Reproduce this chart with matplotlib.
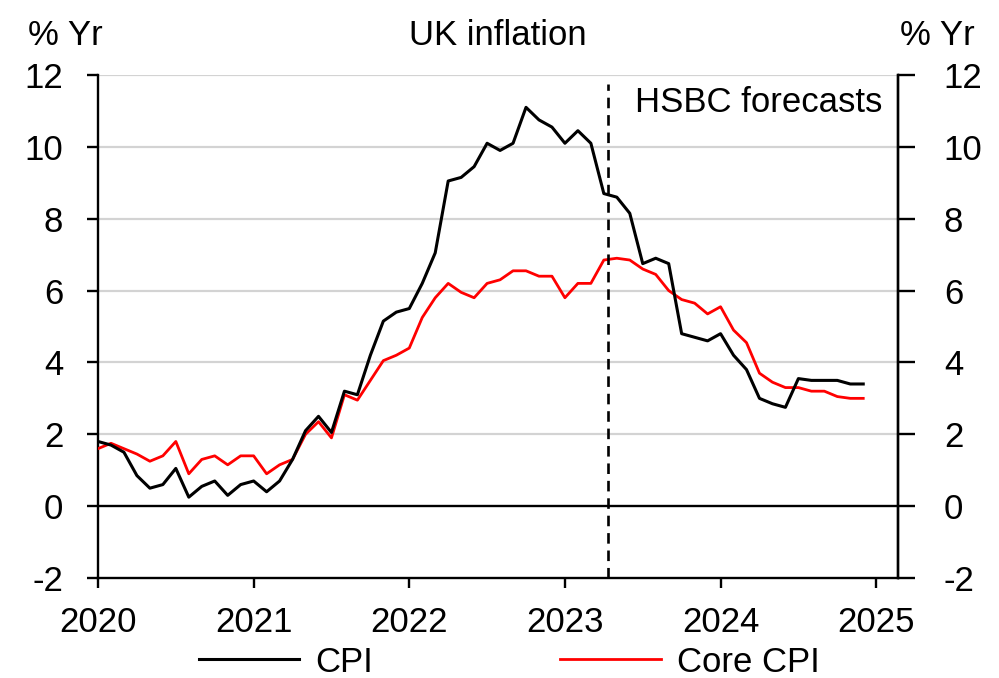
import matplotlib
matplotlib.use("Agg")
import matplotlib.pyplot as plt
from matplotlib.lines import Line2D

plt.rcParams['font.family'] = ['Liberation Sans', 'DejaVu Sans']
plt.rcParams['font.size'] = 25

# Monthly data, Jan 2020 - Dec 2024 (% y/y)
cpi = [1.8, 1.7, 1.5, 0.85, 0.5, 0.6, 1.05, 0.25, 0.55, 0.7, 0.3, 0.6,
       0.7, 0.4, 0.7, 1.3, 2.1, 2.5, 2.05, 3.2, 3.1, 4.2, 5.15, 5.4,
       5.5, 6.2, 7.05, 9.05, 9.15, 9.45, 10.1, 9.9, 10.1, 11.1, 10.75, 10.55,
       10.1, 10.45, 10.1, 8.7, 8.6, 8.15, 6.75, 6.9, 6.75, 4.8, 4.7, 4.6,
       4.8, 4.2, 3.8, 3.0, 2.85, 2.75, 3.55, 3.5, 3.5, 3.5, 3.4, 3.4]
core_cpi = [1.6, 1.75, 1.6, 1.45, 1.25, 1.4, 1.8, 0.9, 1.3, 1.4, 1.15, 1.4,
            1.4, 0.9, 1.15, 1.3, 2.0, 2.35, 1.9, 3.1, 2.95, 3.5, 4.05, 4.2,
            4.4, 5.25, 5.8, 6.2, 5.95, 5.8, 6.2, 6.3, 6.55, 6.55, 6.4, 6.4,
            5.8, 6.2, 6.2, 6.85, 6.9, 6.85, 6.6, 6.45, 6.0, 5.75, 5.65, 5.35,
            5.55, 4.9, 4.55, 3.7, 3.45, 3.3, 3.3, 3.2, 3.2, 3.05, 3.0, 3.0]
start_year = 2020
forecast_start = 2023 + 3.33 / 12
year_ticks = [2020, 2021, 2022, 2023, 2024, 2025]
y_ticks = [-2, 0, 2, 4, 6, 8, 10, 12]

months = [start_year + i / 12 for i in range(len(cpi))]

W, H = 999, 678
fig = plt.figure(figsize=(W / 100, H / 100), dpi=100)
ax = fig.add_axes([98 / W, 1 - 578 / H, 800 / W, 503 / H])

ax.set_xlim(2020, 2025.14)
ax.set_ylim(-2, 12)

for v in y_ticks:
    if v == 0:
        ax.axhline(v, color='black', lw=1.7, zorder=2)
    elif v > -2:
        ax.axhline(v, color='#d3d3d3', lw=1.6, zorder=1)

ax.plot(months, cpi, color='black', lw=2.2, zorder=4)
ax.plot(months, core_cpi, color='#ff0000', lw=2.0, zorder=3)
ax.plot([forecast_start, forecast_start], [-2, 11.75], color='black', lw=1.9,
        linestyle=(0, (4, 2.6)), zorder=5)

ax.spines['top'].set_visible(False)
for s in ['left', 'right', 'bottom']:
    ax.spines[s].set_linewidth(1.7)
    ax.spines[s].set_color('black')

ax.set_xticks(year_ticks)
ax.set_xticklabels([str(y) for y in year_ticks])
ax.tick_params(axis='x', direction='out', length=7, width=1.7, pad=13)
ax.set_yticks(y_ticks)
ax.set_yticklabels([str(v) for v in y_ticks])
ax.tick_params(axis='y', direction='out', length=8, width=1.7, pad=17)

ax2 = ax.twinx()
ax2.set_ylim(-2, 12)
ax2.set_yticks(y_ticks)
ax2.set_yticklabels([str(v) for v in y_ticks])
ax2.tick_params(axis='y', direction='out', length=12, width=1.7, pad=21)
for s in ['top', 'left', 'bottom']:
    ax2.spines[s].set_visible(False)
ax2.spines['right'].set_linewidth(1.7)

fig.text(498 / W, 1 - 45 / H, 'UK inflation', ha='center', va='baseline')
fig.text(28 / W, 1 - 45 / H, '% Yr', ha='left', va='baseline')
fig.text(975 / W, 1 - 45 / H, '% Yr', ha='right', va='baseline')
fig.text(882 / W, 1 - 112 / H, 'HSBC forecasts', ha='right', va='baseline')

handles = [Line2D([], [], color='black', lw=2.2),
           Line2D([], [], color='#ff0000', lw=2.0)]
fig.legend(handles, ['CPI', 'Core CPI'], loc='center',
           bbox_to_anchor=(509 / W, 1 - 662 / H), ncol=2, frameon=False,
           handlelength=2.9, handletextpad=0.45, columnspacing=5.4,
           borderpad=0, borderaxespad=0)

fig.savefig('out.png', dpi=100)
